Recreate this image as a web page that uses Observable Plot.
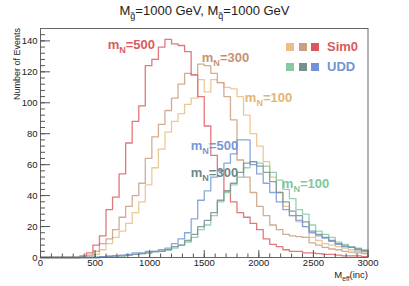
<!DOCTYPE html>
<html><head><meta charset="utf-8">
<script src="https://cdn.jsdelivr.net/npm/d3@7"></script>
<script src="https://cdn.jsdelivr.net/npm/@observablehq/plot@0.6"></script>
<style>
html,body{margin:0;padding:0;background:#fff;}
#wrap{position:relative;width:409px;height:286px;font-family:"Liberation Sans",Arial,Helvetica,sans-serif;overflow:hidden;}
#title{position:absolute;top:3px;left:0;width:409px;text-align:center;font-size:13px;line-height:15px;color:#222;}
#title sub{font-size:9px;vertical-align:-4px;line-height:0;}
#chart{position:absolute;top:22px;left:0;}
.sq{position:absolute;width:8px;height:8px;}
.legtxt{position:absolute;font-size:13px;line-height:13px;font-weight:bold;}
</style></head><body>
<div id="wrap">
  <div id="title">M<sub>g&#771;</sub>=1000 GeV, M<sub>q&#771;</sub>=1000 GeV</div>
  <div id="chart"></div>
  <div id="legend"></div>
</div>
<script>
// ---------------- data (50 bins of 60 GeV, 0–3000) ----------------
const binWidth = 60;
const sim0_mN100 = [0,0,0,0,0,0,0.5,1,2,5, 9,13,17,22,29,36,47,58,70,81, 88,93,99,103,115,107,115,113,110,109, 104,92,80,72,62,52,42,33,27,23, 20,13,11,9,8,7,6,5,4,3];
const sim0_mN300 = [0,0,0,0,0,0,0.5,1.5,4,9, 12,18,26,33,40,48,64,78,86,95, 103,112,119,118,125,124,119,113,104,89, 63,52,42,33,27,21,18,15,14,13.5, 13,9.5,8,6.5,5.5,5,4,3.5,3,2.5];
const sim0_mN500 = [0,0,0,0,0,0,1,3,8,14, 31,39,54,74,88,98,124,128,136,141, 138,137,133,118,104,85,66,56,43,36, 29,26,22,18,12,8.5,7,5,4,4, 3,3,2.5,2,2,1.5,1,1,1,0.5];
const udd_mN100  = [0,0,0,0,0,0,0,0,0,0.5, 0.5,1,1,1.5,2,2.5,3,3.5,4,5, 6,8,10,13,18,21,27,36,42,47, 52,58,62,61,59,55,50,44,38,31, 28,21,17,15,13,10,8.5,7,6,5];
const udd_mN300  = [0,0,0,0,0,0,0,0,0,0.5, 0.5,1,1,1.5,2,2.5,3,4,4,5, 7,8,11,15,20,24,29,37,43,48, 55,61,62,59,55,49,42,36,30,27, 23,17,15,13,11,9,7.5,6.5,5.5,4.5];
const udd_mN500  = [0,0,0,0,0,0,0,0,0,0.5, 1,1,1.5,2,3,3,4,4,5,6, 9,12,16,25,37,43,52,56,61,67, 76,76,60,54,48,42,36,31,27,24, 20,16,14,12.5,10.5,8.5,7,6.5,5,4];

const xTickValues = [0,500,1000,1500,2000,2500,3000];
const yTickValues = [0,20,40,60,80,100,120,140];

const seriesNames  = ["sim0_mN100","sim0_mN300","sim0_mN500","udd_mN100","udd_mN300","udd_mN500"];
const seriesValues = [sim0_mN100, sim0_mN300, sim0_mN500, udd_mN100, udd_mN300, udd_mN500];
const seriesColors = ["#e8bf85","#c99f83","#dd6064","#86c9a3","#778f8f","#7596d8"];

// in-plot annotations (data coordinates)
const annText  = ["m_{N}=500","m_{N}=300","m_{N}=100","m_{N}=500","m_{N}=300","m_{N}=100"];
const annX     = [615, 1477, 1872, 1376, 1376, 2211];
const annY     = [137.5, 129, 103.5, 72, 55, 47.5];
const annColor = ["#d95b5e","#c4936f","#e3b473","#7896d8","#6f8787","#80c79c"];

// ---------------- layout ----------------
const W = 409, H = 264;
const mL = 40, mR = 41.5, mT = 6, mB = 29;
const fW = W - mL - mR, fH = H - mT - mB;
const axisColor = "#555";

const stepData = (vals, name) => {
  const pts = vals.map((v, i) => ({x: i * binWidth, y: v, name}));
  pts.push({x: vals.length * binWidth, y: vals[vals.length - 1], name});
  return pts;
};

const xMinor = d3.range(0, 3001, 100);
const yMinor = d3.range(0, 148, 4);
const annData = annText.map((t, i) => ({t, x: annX[i], y: annY[i], c: annColor[i]}));

const marks = [];
seriesNames.forEach((n, i) => {
  marks.push(Plot.line(stepData(seriesValues[i], n), {
    x: "x", y: "y", curve: "step-after",
    stroke: seriesColors[i], strokeWidth: 1.3, strokeOpacity: 0.85
  }));
});
marks.push(
  Plot.frame({stroke: "#666", strokeWidth: 1}),
  Plot.ruleX(xMinor, {x: d => d, insetTop: fH - 3.5, stroke: axisColor}),
  Plot.ruleX(xTickValues, {x: d => d, insetTop: fH - 7, stroke: axisColor}),
  Plot.ruleY(yMinor, {y: d => d, insetRight: fW - 5, stroke: axisColor}),
  Plot.ruleY(yTickValues, {y: d => d, insetRight: fW - 10, stroke: axisColor}),
  Plot.axisX({ticks: xTickValues, tickSize: 0, tickPadding: 2, fontSize: 9.5, label: null, tickFormat: d => String(d)}),
  Plot.axisY({ticks: yTickValues, tickSize: 0, tickPadding: 3, fontSize: 9.5, label: null, tickFormat: d => String(d)}),
  Plot.text(annData, {x: "x", y: "y", text: "t", fill: "c", textAnchor: "start", fontSize: 13, fontWeight: "bold"}),
  Plot.text(["M_{eff}(inc)"], {frameAnchor: "bottom-right", textAnchor: "end", dy: 20, fontSize: 9.5, fill: "#222"})
);

const chart = Plot.plot({
  width: W, height: H,
  marginLeft: mL, marginRight: mR, marginTop: mT, marginBottom: mB,
  x: {domain: [0, 3000], label: null},
  y: {domain: [0, 148], label: null},
  style: {fontFamily: '"Liberation Sans", Arial, Helvetica, sans-serif', background: "#fff", color: "#222", overflow: "visible"},
  marks
});
document.getElementById("chart").appendChild(chart);

// subscript rendering for "X_{sub}rest"
function richText(el, str, fs) {
  el.textContent = "";
  const re = /_\{([^}]*)\}/g;
  const parts = [];
  let last = 0, m;
  while ((m = re.exec(str))) { parts.push([str.slice(last, m.index), false]); parts.push([m[1], true]); last = re.lastIndex; }
  parts.push([str.slice(last), false]);
  let shift = 0;
  for (const [t, sub] of parts) {
    if (!t) continue;
    const ts = document.createElementNS("http://www.w3.org/2000/svg", "tspan");
    const target = sub ? fs * 0.32 : 0;
    ts.setAttribute("dy", target - shift);
    shift = target;
    if (sub) ts.setAttribute("font-size", fs * 0.7);
    ts.textContent = t;
    el.appendChild(ts);
  }
}
chart.querySelectorAll("text").forEach(el => {
  const s = el.textContent;
  if (s.includes("_{")) {
    const fs = parseFloat(el.closest("[font-size]")?.getAttribute("font-size")) || 13;
    richText(el, s, fs);
  }
});

// y-axis title (rotated, top-aligned like ROOT)
const svgNS = "http://www.w3.org/2000/svg";
const svgEl = chart.tagName.toLowerCase() === "svg" ? chart : chart.querySelector("svg");
const yt = document.createElementNS(svgNS, "text");
yt.setAttribute("transform", `translate(${mL - 23},${mT}) rotate(-90)`);
yt.setAttribute("text-anchor", "end");
yt.setAttribute("dy", "0.35em");
yt.setAttribute("font-size", 9);
yt.setAttribute("fill", "#222");
yt.textContent = "Number of Events";
svgEl.appendChild(yt);

// legend
const legRows = [
  {label: "Sim0", color: "#d95b5e", boxes: [seriesColors[0], seriesColors[1], "#d9585b"], top: 43},
  {label: "UDD",  color: "#7393d6", boxes: [seriesColors[3], seriesColors[4], "#7393d6"], top: 63}
];
const leg = document.getElementById("legend");
legRows.forEach(r => {
  r.boxes.forEach((c, j) => {
    const s = document.createElement("div");
    s.className = "sq"; s.style.background = c;
    s.style.left = (286 + j * 12.5) + "px"; s.style.top = r.top + "px";
    leg.appendChild(s);
  });
  const t = document.createElement("div");
  t.className = "legtxt"; t.textContent = r.label; t.style.color = r.color;
  t.style.left = "327px"; t.style.top = (r.top - 3) + "px";
  leg.appendChild(t);
});
</script>
</body></html>
